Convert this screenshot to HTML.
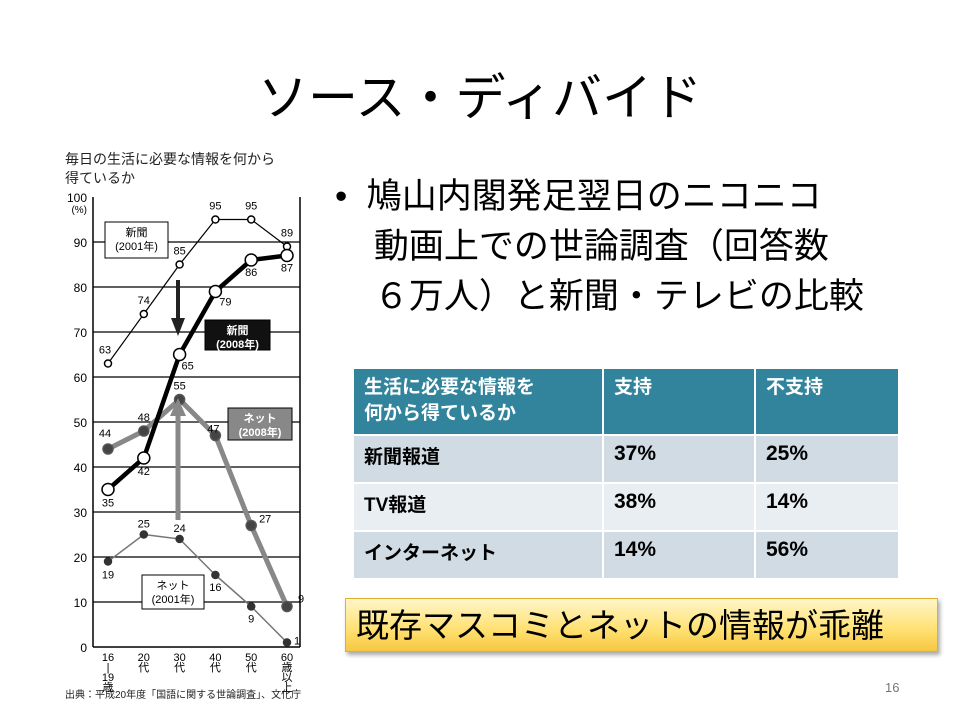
<!DOCTYPE html>
<html><head><meta charset="utf-8"><style>
body{margin:0;width:960px;height:720px;background:#fff;position:relative;overflow:hidden;font-family:"Liberation Sans","Noto Sans CJK JP",sans-serif;}
.abs{position:absolute;}
#title{left:0;width:960px;top:58px;text-align:center;font-size:50px;color:#000;}
#bullet{left:335px;top:172px;font-size:35px;line-height:50px;color:#000;white-space:nowrap;}
table{border-collapse:collapse;}
#tbl{left:352px;top:367px;width:548px;}
#tbl td{font-size:19px;font-weight:bold;padding:6px 10px;vertical-align:top;border:2px solid #fff;color:#000;}
#tbl td.n{font-size:21px;}
#tbl tr.h td{background:#31849b;color:#fff;height:53px;line-height:26px;}
#tbl tr.r1 td,#tbl tr.r3 td{background:#d0dbe3;height:34px;}
#tbl tr.r2 td{background:#e8eef2;height:34px;}
#conc{left:345px;top:598px;width:593px;height:54px;background:linear-gradient(#fff6c8,#ffe070 60%,#f5c842);border:1px solid #e0b030;box-shadow:2px 3px 4px #aaa;font-size:33px;line-height:54px;padding-left:10px;box-sizing:border-box;}
#pg{left:885px;top:680px;font-size:13px;color:#777;}
</style></head><body>
<div class="abs" id="title">ソース・ディバイド</div>
<div class="abs" id="bullet">•&nbsp;&nbsp;鳩山内閣発足翌日のニコニコ<br>&nbsp;&nbsp;&nbsp;&nbsp;動画上での世論調査（回答数<br>&nbsp;&nbsp;&nbsp;&nbsp;６万人）と新聞・テレビの比較</div>
<table class="abs" id="tbl">
<tr class="h"><td style="width:228px">生活に必要な情報を<br>何から得ているか</td><td style="width:130px">支持</td><td>不支持</td></tr>
<tr class="r1"><td>新聞報道</td><td class="n">37%</td><td class="n">25%</td></tr>
<tr class="r2"><td>TV報道</td><td class="n">38%</td><td class="n">14%</td></tr>
<tr class="r3"><td>インターネット</td><td class="n">14%</td><td class="n">56%</td></tr>
</table>
<div class="abs" id="conc">既存マスコミとネットの情報が乖離</div>
<div class="abs" id="pg">16</div>
<svg class="abs" style="left:0;top:0" width="340" height="720" id="chart">
<text x="65" y="164" font-size="14" fill="#222">毎日の生活に必要な情報を何から</text>
<text x="65" y="183" font-size="14" fill="#222">得ているか</text>
<text x="65" y="698" font-size="10" fill="#222">出典：平成20年度「国語に関する世論調査」、文化庁</text>
</svg>
<script>
const categories=["16-19歳","20代","30代","40代","50代","60歳以上"];
const catLines=[["16","|","19","歳"],["20","代"],["30","代"],["40","代"],["50","代"],["60","歳","以","上"]];
const news2001=[63,74,85,95,95,89];
const news2008=[35,42,65,79,86,87];
const net2008=[44,48,55,47,27,9];
const net2001=[19,25,24,16,9,1];
const yTicks=[0,10,20,30,40,50,60,70,80,90,100];
const svg=document.getElementById('chart');
const NS='http://www.w3.org/2000/svg';
const X=i=>108+i*35.8;
const Y=v=>647-v*4.5;
function mk(t,a,p){const e=document.createElementNS(NS,t);for(const k in a)e.setAttribute(k,a[k]);(p||svg).appendChild(e);return e;}
yTicks.forEach(v=>{
 if(v>0&&v<100){const l=mk('line',{x1:93,x2:300,y1:Y(v),y2:Y(v),stroke:'#000','stroke-width':1.3});
 
 }
 const t=mk('text',{x:87,y:Y(v)+5,'font-size':12,'text-anchor':'end'});t.textContent=v;
 
 
});
const pct=mk('text',{x:87,y:Y(100)+16,'font-size':10,'text-anchor':'end'});pct.textContent='(%)';


const ax=mk('line',{x1:93,x2:93,y1:Y(100),y2:Y(0),stroke:'#000','stroke-width':1.5});


const rx=mk('line',{x1:300,x2:300,y1:Y(100),y2:Y(0),stroke:'#000','stroke-width':1.5});


const bx=mk('line',{x1:93,x2:300,y1:Y(0),y2:Y(0),stroke:'#000','stroke-width':1.5});


catLines.forEach((ls,i)=>{ls.forEach((s,j)=>{const t=mk('text',{x:X(i),y:Y(0)+14+j*10,'font-size':11,'text-anchor':'middle'});t.textContent=s;
 
 });});
function series(data,name,lw,lc,r,fill,sc,lx,ly){
 const p=mk('polyline',{points:data.map((v,i)=>X(i)+','+Y(v)).join(' '),fill:'none',stroke:lc,'stroke-width':lw,'stroke-linejoin':'round'});
 
 
 data.forEach((v,i)=>{const c=mk('circle',{cx:X(i),cy:Y(v),r:r,fill:fill,stroke:sc,'stroke-width':1.5});
  
  
  const t=mk('text',{x:X(i)+lx[i],y:Y(v)+ly[i],'font-size':11,'text-anchor':'middle'});t.textContent=v;
  
  });
}
series(net2001,'net-2001',1.5,'#777',3.5,'#333','#333',[0,0,0,0,0,10],[17,-7,-7,16,16,2]);
series(net2008,'net-2008',5,'#888',5,'#444','#555',[-3,0,0,-2,14,14],[-12,-10,-10,-3,-3,-4]);
series(news2001,'news-2001',1.2,'#000',3.5,'#fff','#000',[-3,0,0,0,0,0],[-10,-10,-10,-10,-10,-10]);
series(news2008,'news-2008',4.5,'#000',6,'#fff','#000',[0,0,8,10,0,0],[17,17,15,14,16,16]);
const a1=mk('line',{x1:178,x2:178,y1:280,y2:322,stroke:'#222','stroke-width':4});


const h1=mk('polygon',{points:'171,318 185,318 178,336',fill:'#222'});


const a2=mk('line',{x1:178,x2:178,y1:520,y2:412,stroke:'#888','stroke-width':5});


const h2=mk('polygon',{points:'170,416 186,416 178,398',fill:'#888'});


function box(x,y,w,h,bg,fg,l1,l2,name){
 const r=mk('rect',{x:x,y:y,width:w,height:h,fill:bg,stroke:'#000','stroke-width':1});
 
 
 [l1,l2].forEach((s,j)=>{const t=mk('text',{x:x+w/2,y:y+14+j*14,'font-size':11,'text-anchor':'middle',fill:fg,'font-weight':bg=='#fff'?'normal':'bold'});t.textContent=s;
  
  });
}
box(105,222,63,36,'#fff','#000','新聞','(2001年)','legend-news-2001');
box(205,320,65,30,'#111','#fff','新聞','(2008年)','legend-news-2008');
box(228,408,64,32,'#888','#fff','ネット','(2008年)','legend-net-2008');
box(142,575,62,34,'#fff','#000','ネット','(2001年)','legend-net-2001');
</script>
</body></html>
